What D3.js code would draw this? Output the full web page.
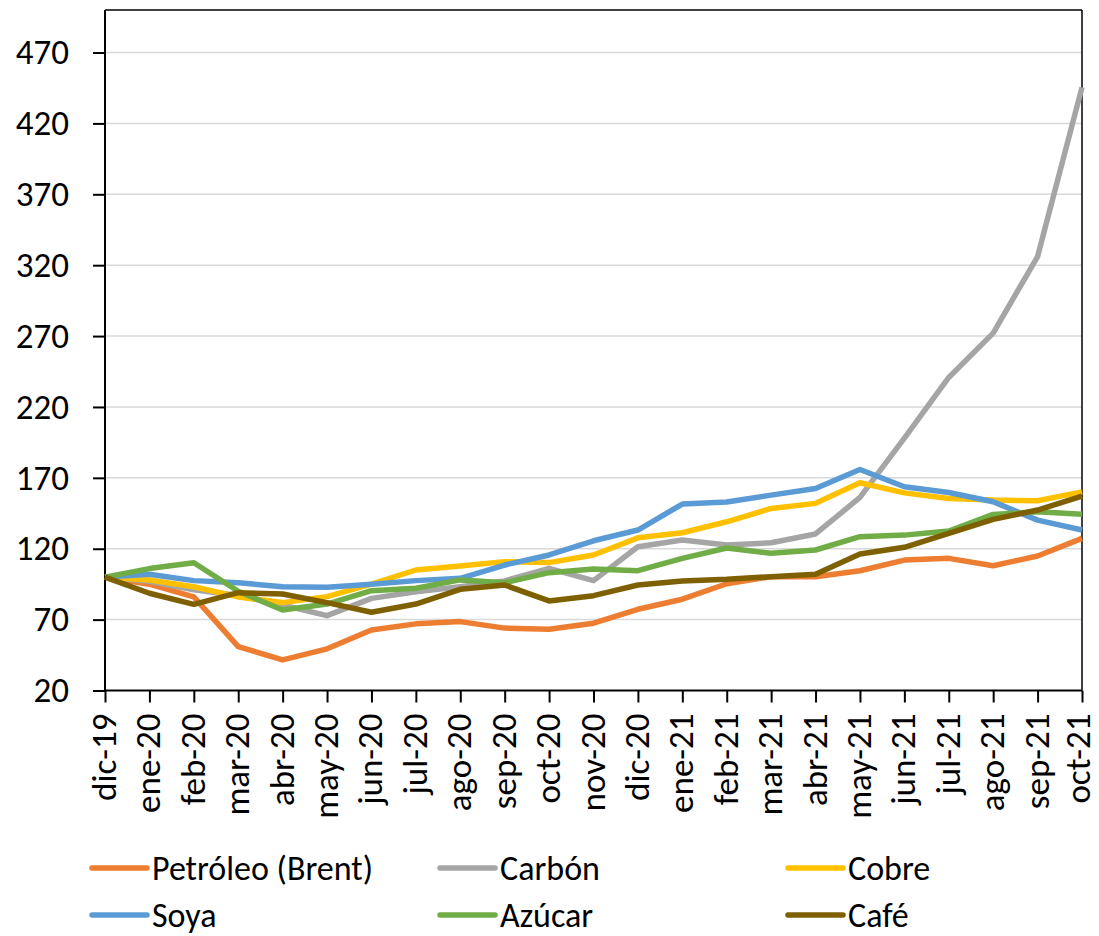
<!DOCTYPE html>
<html><head><meta charset="utf-8">
<script src="https://cdn.jsdelivr.net/npm/d3@7"></script>
<style>
html,body{margin:0;padding:0;background:#fff;}
svg{display:block;font-family:Carlito, Lato, "Open Sans", sans-serif;}
</style></head>
<body><svg id="chart" width="1099" height="936"></svg>
<script>
const months = ["dic-19","ene-20","feb-20","mar-20","abr-20","may-20","jun-20","jul-20","ago-20","sep-20","oct-20","nov-20","dic-20","ene-21","feb-21","mar-21","abr-21","may-21","jun-21","jul-21","ago-21","sep-21","oct-21"];
const petroleo = [100,95,86,51,41.6,49.4,62.7,67,68.6,64,63.2,67.5,77.3,84.4,95.3,100.3,100.3,104.5,112,113.2,108,114.9,127.3];
const carbon   = [100,97,91,87,80.3,72.8,85,89.7,93.2,97.3,106.2,97.5,121.4,126.1,122.6,124.2,130.4,156.2,198,240.8,272.1,326.1,445.4];
const cobre    = [100,98,93.2,86,82,86.2,95,105,107.8,110.9,110.2,115.6,127.7,131.3,139,148.4,152,166.5,159.4,155.5,154.3,153.8,160.1];
const soya     = [100,102,97.5,96,93.2,92.8,95,97.5,99.1,108.5,115.6,125.6,133.2,151.5,152.9,157.8,162.5,175.9,163.7,159.7,153.1,140.2,133.2];
const azucar   = [100,106,110.1,90,76.8,81,90.4,92.1,98,96,103.1,105.7,104.5,113.2,120.5,116.8,119.1,128.5,129.6,132.5,144.2,146.1,144.4];
const cafe     = [100,88.6,80.8,89,88.1,82,75.2,81,91.4,94.4,83.2,86.9,94.4,97.3,98.4,100.3,102,116.3,121,130.8,140.7,147.3,157.1];
const seriesNames = ["Petróleo (Brent)","Carbón","Cobre","Soya","Azúcar","Café"];
const seriesValues = [petroleo, carbon, cobre, soya, azucar, cafe];
const seriesColors = ["#ED7D31","#A5A5A5","#FFC000","#5B9BD5","#70AD47","#7F6000"];
const yTicks = [20,70,120,170,220,270,320,370,420,470];
const yDomain = [20,500];

const FS = "35px";
const svg = d3.select("#chart");
const L = 105, R = 1082, T = 10, B = 690.5;
const x = d3.scalePoint().domain(months).range([L, R]);
const y = d3.scaleLinear().domain(yDomain).range([B, T]);

// gridlines
svg.append("g").selectAll("line").data(yTicks.slice(1)).join("line")
  .attr("x1", L).attr("x2", R).attr("y1", d => y(d)).attr("y2", d => y(d))
  .attr("stroke", "#d9d9d9").attr("stroke-width", 1.5);

// frame top/right
svg.append("line").attr("x1", L).attr("x2", R).attr("y1", T).attr("y2", T).attr("stroke","#000").attr("stroke-width",1.5);
svg.append("line").attr("x1", R).attr("x2", R).attr("y1", T).attr("y2", B).attr("stroke","#000").attr("stroke-width",1.5);

// y axis
const yAxis = d3.axisLeft(y).tickValues(yTicks).tickSize(12).tickPadding(24).tickFormat(d3.format("d"));
const gy = svg.append("g").attr("transform", `translate(${L},0)`).call(yAxis);
gy.select(".domain").attr("stroke","#000").attr("stroke-width",2).attr("d", `M-0,${T}V${B}`);
gy.selectAll(".tick line").attr("stroke","#000").attr("stroke-width",2);
gy.selectAll(".tick text").attr("fill","#000").style("font-size",FS).style("font-family","Carlito, Lato, sans-serif");

// x axis
const xAxis = d3.axisBottom(x).tickSize(12).tickPadding(8);
const gx = svg.append("g").attr("transform", `translate(0,${B})`).call(xAxis);
gx.select(".domain").attr("stroke","#000").attr("stroke-width",2).attr("d", `M${L},0H${R}`);
gx.selectAll(".tick line").attr("stroke","#000").attr("stroke-width",2);
gx.selectAll(".tick text").attr("fill","#000").style("font-size",FS).style("font-family","Carlito, Lato, sans-serif")
  .attr("transform","rotate(-90)").attr("text-anchor","end").attr("x",-23).attr("y",0)
  .attr("dy",(d,i) => i === months.length - 1 ? "0.2em" : "0.3em");

// lines
const line = d3.line().x((d,i) => x(months[i])).y(d => y(d));
svg.append("g").selectAll("path").data(seriesValues).join("path")
  .attr("d", d => line(d)).attr("fill","none")
  .attr("stroke", (d,i) => seriesColors[i]).attr("stroke-width", 5.5)
  .attr("stroke-linejoin","round");

// legend
const legX = [92, 440, 788], legY = [868, 915];
const lg = svg.append("g").selectAll("g").data(seriesNames).join("g")
  .attr("transform", (d,i) => `translate(${legX[i%3]},${legY[Math.floor(i/3)]})`);
lg.append("line").attr("x1",0).attr("x2",55).attr("y1",0).attr("y2",0)
  .attr("stroke",(d,i)=>seriesColors[i]).attr("stroke-width",5.5).attr("stroke-linecap","round");
lg.append("text").attr("x",60).attr("y",0).attr("dy","0.35em").text(d=>d)
  .style("font-size","34px").attr("fill","#000");
</script></body></html>
